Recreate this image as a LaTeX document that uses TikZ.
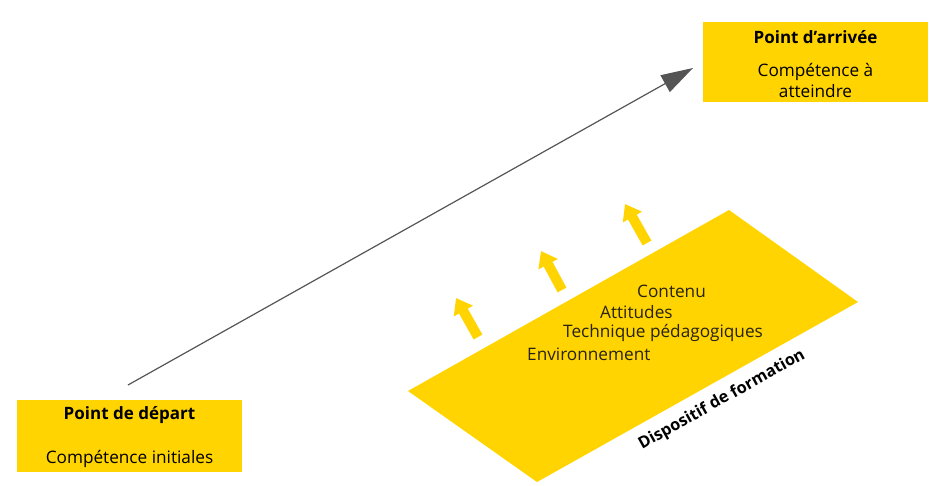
\documentclass[tikz,border=0pt]{standalone}
\usepackage{fontspec}
\setmainfont{Open Sans}
\usetikzlibrary{arrows.meta}
\definecolor{jaune}{RGB}{255,212,0}
\definecolor{txt}{RGB}{40,35,20}
\definecolor{gris}{RGB}{85,85,85}
\tikzset{
  box/.style={fill=jaune, draw=none, inner sep=0pt},
  lbl/.style={inner sep=0pt, font=\fontsize{17.2}{21}\selectfont, text=txt},
  ttl/.style={inner sep=0pt, font=\fontsize{17}{20}\selectfont\bfseries, text=black},
  yarrow/.style={draw=jaune, line width=10pt, line cap=butt, -{Triangle[length=15pt,width=21pt]}},
  marrow/.style={draw=gris, line width=1.2pt, -{Triangle[length=32pt,width=19pt]}}
}
\begin{document}
\begin{tikzpicture}[x=1pt,y=-1pt]
\useasboundingbox (0,0) rectangle (935,485);
% boxes
\node[box, minimum width=225pt, minimum height=72pt] (dep) at (129.5,436) {};
\node[ttl] (depT) at (129.5,415) {Point de départ};
\node[lbl, text=black] (depS) at (129.5,459) {Compétence initiales};
\node[box, minimum width=225pt, minimum height=80pt] (arr) at (815.5,62) {};
\node[ttl] (arrT) at (815.5,37) {Point d’arrivée};
\node[lbl, text=black, align=center] (arrS) at (815.5,80) {Compétence à\\atteindre};
% main arrow
\coordinate (ms) at (128,385);
\coordinate (me) at (693,68);
\draw[marrow] (ms) -- (me);
% parallelogram
\coordinate (pT) at (729,210);
\coordinate (pR) at (858,302);
\coordinate (pB) at (537,482);
\coordinate (pL) at (408,391);
\fill[jaune] (pT) -- (pR) -- (pB) -- (pL) -- cycle;
% yellow arrows
\coordinate (a1s) at (478,337); \coordinate (a1e) at (456,298);
\coordinate (a2s) at (562,290); \coordinate (a2e) at (541,251);
\coordinate (a3s) at (647,243); \coordinate (a3e) at (625,204);
\draw[yarrow] (a1s) -- (a1e);
\draw[yarrow] (a2s) -- (a2e);
\draw[yarrow] (a3s) -- (a3e);
% texts
\node[lbl, anchor=west] (t1) at (637,291) {Contenu};
\node[lbl, anchor=west] (t2) at (600,312) {Attitudes};
\node[lbl, anchor=west] (t3) at (563,333) {Technique pédagogiques};
\node[lbl, anchor=west] (t4) at (527,354) {Environnement};
\node[ttl, font=\fontsize{16.3}{20}\selectfont\bfseries, rotate=29.3] (disp) at (722,400) {Dispositif de formation};
\end{tikzpicture}
\end{document}
